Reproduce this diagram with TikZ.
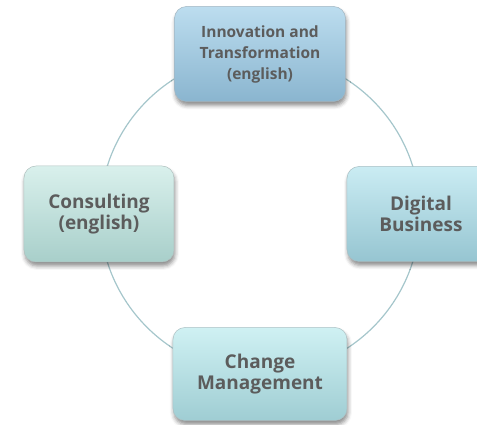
\documentclass[tikz,border=0pt]{standalone}
\usepackage{fontspec}
\setmainfont{Open Sans}
\usetikzlibrary{shadows.blur}

\definecolor{txtgray}{HTML}{5C5C5C}
\definecolor{ringline}{HTML}{A5C6CB}
\definecolor{innovtop}{HTML}{BCDDEF}
\definecolor{innovbot}{HTML}{8AB5CF}
\definecolor{consulttop}{HTML}{D9F0EC}
\definecolor{consultbot}{HTML}{A8CFCA}
\definecolor{digitaltop}{HTML}{CAECF3}
\definecolor{digitalbot}{HTML}{96C5D1}
\definecolor{changetop}{HTML}{CFF1F3}
\definecolor{changebot}{HTML}{9FCDD3}

\begin{document}
\begin{tikzpicture}[x=1pt,y=1pt,
		areabox/.style n args={2}{rounded corners=12pt,top color=#1,bottom color=#2,
			draw=#2!75!black!60,line width=0.5pt,text=txtgray,align=center,
			font=\bfseries\fontsize{19}{21}\selectfont,
			blur shadow={shadow xshift=1pt,shadow yshift=-4pt,shadow blur radius=4pt,shadow opacity=45}},
		smalltext/.style={font=\bfseries\fontsize{15.5}{21}\selectfont}
		]
		\useasboundingbox (-260,-211) rectangle (217,214);
		\coordinate (ctr) at (0,0);
		\draw[ringline,line width=1.2pt] (ctr) circle (160);
		\node[areabox={innovtop}{innovbot},smalltext,minimum width=171,minimum height=95] (innov) at (90:160) {Innovation and\\Transformation\\(english)};
		\node[areabox={digitaltop}{digitalbot},minimum width=148,minimum height=95] (digital) at (0:161) {Digital\\Business};
		\node[areabox={changetop}{changebot},minimum width=174,minimum height=93] (change) at (270:160) {Change\\Management};
		\node[areabox={consulttop}{consultbot},minimum width=150,minimum height=96] (consult) at (180:161) {Consulting\\(english)};
\end{tikzpicture}
\end{document}
